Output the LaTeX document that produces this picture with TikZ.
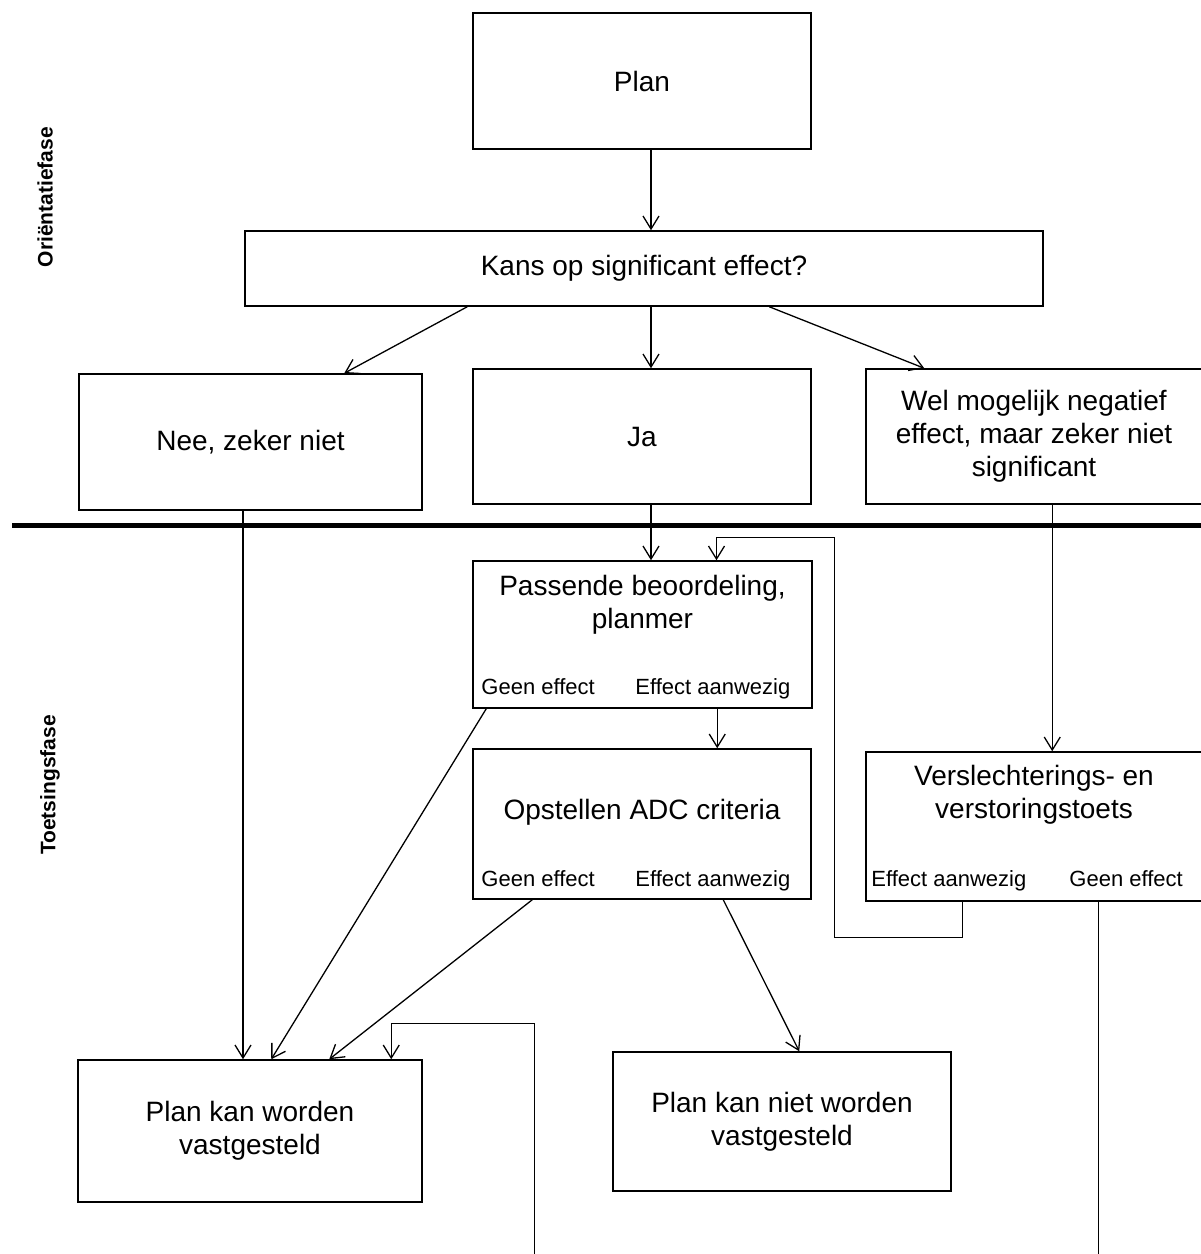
\documentclass[tikz,border=0pt]{standalone}
\usepackage{fontspec}
\setmainfont{Liberation Sans}
\usepackage{tikz}
\usetikzlibrary{arrows.meta, positioning, calc}

\begin{document}
\begin{tikzpicture}[x=1pt,y=-1pt]
    \tikzstyle{every node} = [font=\fontsize{28}{33}\selectfont]
    \tikzstyle{block} = [draw, rectangle, line width=1.5pt, inner sep=0pt, align=center]
    \tikzstyle{txt} = [inner sep=0pt, align=center]
    \tikzstyle{lbl} = [font=\fontsize{22}{26}\selectfont, inner sep=0pt, anchor=base west]
    \tikzstyle{phase} = [font=\fontsize{21}{25}\selectfont\bfseries, rotate=90, inner sep=0pt]
    \tikzstyle{arr} = [-{Straight Barb[length=13pt,width=16pt]}, line width=1.3pt]
    \useasboundingbox (0,0) rectangle (1201,1254);
    \clip (0,0) rectangle (1201,1254);
    % place nodes
    \node[block,minimum width=338pt,minimum height=136pt](plan) at (642,81){Plan};
    \node[block,minimum width=798pt,minimum height=75pt](kans) at (644,268.5){Kans op significant effect?};
    \node[block,minimum width=343pt,minimum height=136pt](nee) at (250.5,442){Nee, zeker niet};
    \node[block,minimum width=338pt,minimum height=135pt](ja) at (642,436.5){Ja};
    \node[block,minimum width=336pt,minimum height=135pt](wel) at (1034,436.5){Wel mogelijk negatief\\effect, maar zeker niet\\significant};
    \node[block,minimum width=339pt,minimum height=147pt](passend) at (642.5,634.5){};
    \node[block,minimum width=338pt,minimum height=150pt](adc) at (642,824){};
    \node[block,minimum width=336pt,minimum height=149pt](versl) at (1034,826.5){};
    \node[block,minimum width=344pt,minimum height=142pt](vast) at (250,1131){Plan kan worden\\vastgesteld};
    \node[block,minimum width=338pt,minimum height=139pt](nietvast) at (782,1121.5){Plan kan niet worden\\vastgesteld};
    % texts inside the boxes
    \node[txt,anchor=north](passendTxt) at ([yshift=-15pt]passend.north){Passende beoordeling,\\planmer};
    \node[lbl](passendGeen) at ([xshift=9pt,yshift=14pt]passend.south west){Geen effect};
    \node[lbl](passendEffect) at ([xshift=163pt,yshift=14pt]passend.south west){Effect aanwezig};
    \node[txt,anchor=north](adcTxt) at ([yshift=-51pt]adc.north){Opstellen ADC criteria};
    \node[lbl](adcGeen) at ([xshift=9pt,yshift=13pt]adc.south west){Geen effect};
    \node[lbl](adcEffect) at ([xshift=163pt,yshift=13pt]adc.south west){Effect aanwezig};
    \node[txt,anchor=north](verslTxt) at ([yshift=-14pt]versl.north){Verslechterings- en\\verstoringstoets};
    \node[lbl](verslEffect) at ([xshift=6pt,yshift=15pt]versl.south west){Effect aanwezig};
    \node[lbl](verslGeen) at ([xshift=204pt,yshift=15pt]versl.south west){Geen effect};
    % phases
    \node[phase](orient) at (45,197){Oriëntatiefase};
    \node[phase](toets) at (50,785){Toetsingsfase};
    \draw[line width=5pt] (12,525.5) -- (1210,525.5);
    % Connections
    \draw[arr] ([xshift=9pt]plan.south) -- ([xshift=9pt]plan.south |- kans.north);
    \draw[arr] ([xshift=7pt]kans.south) -- ([xshift=7pt]kans.south |- ja.north);
    \draw[arr] ([xshift=223pt]kans.south west) -- ([xshift=266pt]nee.north west);
    \draw[arr] ([xshift=525pt]kans.south west) -- ([xshift=59pt]wel.north west);
    \draw[arr] ([xshift=-7.5pt]nee.south) -- ([xshift=-7.5pt]nee.south |- vast.north);
    \draw[arr] ([xshift=9pt]ja.south) -- ([xshift=9pt]ja.south |- passend.north);
    \draw[arr] ([xshift=14pt]passend.south west) -- ([xshift=194pt]vast.north west);
    \draw[arr] ([xshift=245pt]passend.south west) -- ([xshift=245pt]passend.south west |- adc.north);
    \draw[arr] ([xshift=60pt]adc.south west) -- ([xshift=252pt]vast.north west);
    \draw[arr] ([xshift=251pt]adc.south west) -- ([xshift=187pt]nietvast.north west);
    \draw[arr] ([xshift=187pt]wel.south west) -- ([xshift=187pt]wel.south west |- versl.north);
    \draw[arr] ([xshift=97pt]versl.south west) |- ++(-128,36)
      |- ([xshift=74pt,yshift=23pt]passend.north) -- ([xshift=74pt]passend.north);
    \draw[arr] ([xshift=233pt]versl.south west) |- ++(-564,400)
      |- ([xshift=314pt,yshift=36pt]vast.north west) -- ([xshift=314pt]vast.north west);
\end{tikzpicture}
\end{document}
